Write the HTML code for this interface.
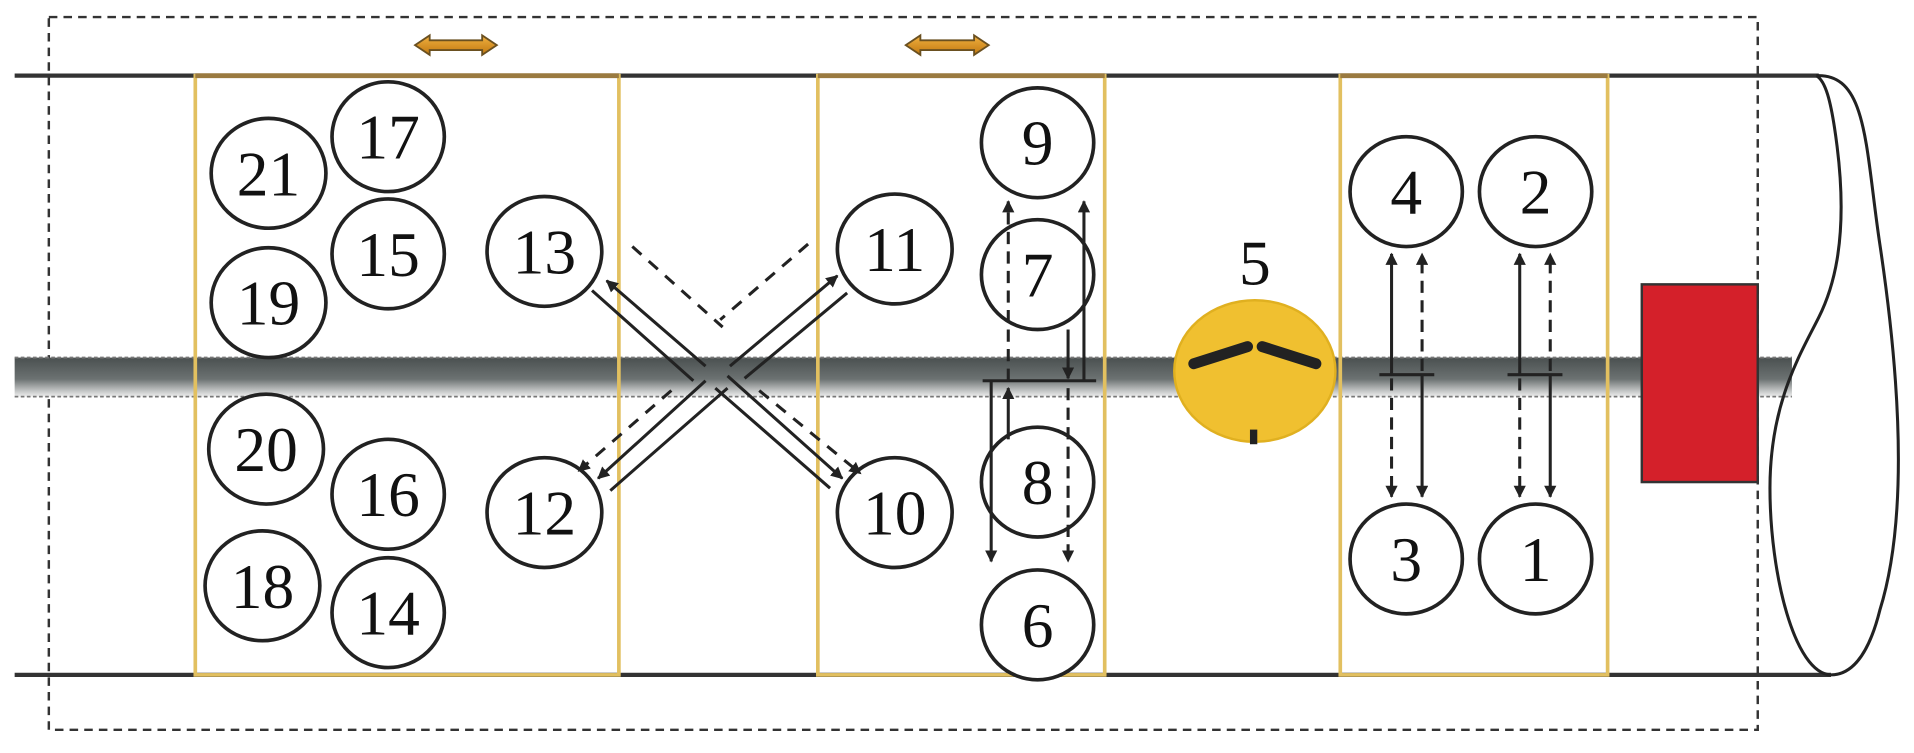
<!DOCTYPE html>
<html><head><meta charset="utf-8"><style>
html,body{margin:0;padding:0;background:#fff;}
svg{display:block;}
text{font-family:"Liberation Serif",serif;font-size:52px;fill:#111;text-anchor:middle;}
</style></head><body>
<svg width="1914" height="753" viewBox="0 0 1568 617" preserveAspectRatio="none" xmlns="http://www.w3.org/2000/svg">
<defs>
<linearGradient id="sh" x1="0" y1="0" x2="0" y2="1">
<stop offset="0" stop-color="#4a5050"/><stop offset="0.55" stop-color="#6c7272"/><stop offset="1" stop-color="#eeeeee"/>
</linearGradient>
<marker id="a" viewBox="0 0 10 10" refX="9" refY="5" markerWidth="4" markerHeight="4" orient="auto-start-reverse"><path d="M0,0L10,5L0,10z" fill="#222"/></marker>
<linearGradient id="ob" x1="0" y1="0" x2="0" y2="1"><stop offset="0" stop-color="#f0b040"/><stop offset="1" stop-color="#c07810"/></linearGradient>
</defs>
<rect x="40" y="14" width="1400" height="584" fill="none" stroke="#333" stroke-width="2" stroke-dasharray="7,5"/>
<rect x="12" y="293" width="1456" height="32" fill="url(#sh)"/>
<line x1="12" y1="293" x2="1468" y2="293" stroke="#777" stroke-width="1.5" stroke-dasharray="3,2"/>
<line x1="12" y1="325" x2="1468" y2="325" stroke="#777" stroke-width="1.5" stroke-dasharray="3,2"/>
<line x1="12" y1="62" x2="1490" y2="62" stroke="#333" stroke-width="3.5"/>
<line x1="12" y1="553" x2="1500" y2="553" stroke="#333" stroke-width="3.5"/>
<path d="M1488,62 C1530,60 1528,120 1540,200 C1555,300 1565,420 1540,500 C1530,540 1515,553 1500,553 C1470,552 1450,470 1450,400 C1450,330 1475,290 1490,260 C1500,240 1515,200 1505,120 C1500,80 1495,66 1488,62" fill="none" stroke="#222" stroke-width="2.5"/>
<g fill="none" stroke="#e2c060" stroke-width="3">
<rect x="160" y="62" width="347" height="491"/>
<rect x="670" y="62" width="235" height="491"/>
<rect x="1098" y="62" width="219" height="491"/>
</g>
<g stroke="#9a7a40" stroke-width="4">
<line x1="160" y1="62" x2="507" y2="62"/><line x1="670" y1="62" x2="905" y2="62"/><line x1="1098" y1="62" x2="1317" y2="62"/>
</g>
<g fill="url(#ob)" stroke="#6a5020" stroke-width="1.5">
<path d="M340,37 L352,29 L352,33 L395,33 L395,29 L407,37 L395,45 L395,41 L352,41 L352,45z"/>
<path d="M742,37 L754,29 L754,33 L798,33 L798,29 L810,37 L798,45 L798,41 L754,41 L754,45z"/>
</g>
<rect x="1345" y="233" width="95" height="162" fill="#d4202a" stroke="#333" stroke-width="2"/>
<ellipse cx="1028" cy="304" rx="66" ry="58" fill="#f0c030" stroke="#e0b020" stroke-width="2"/>
<path d="M978,298 L1022,284 M1034,284 L1078,298" stroke="#222" stroke-width="9" stroke-linecap="round"/>
<rect x="1024" y="352" width="6" height="12" fill="#222"/>
<text x="1028" y="233">5</text>
<g fill="#fff" stroke="#222" stroke-width="3">
<ellipse cx="318" cy="112" rx="46" ry="45"/><ellipse cx="220" cy="142" rx="47" ry="45"/>
<ellipse cx="318" cy="208" rx="46" ry="45"/><ellipse cx="220" cy="248" rx="47" ry="45"/>
<ellipse cx="218" cy="368" rx="47" ry="45"/><ellipse cx="318" cy="405" rx="46" ry="45"/>
<ellipse cx="215" cy="480" rx="47" ry="45"/><ellipse cx="318" cy="502" rx="46" ry="45"/>
<ellipse cx="446" cy="206" rx="47" ry="45"/><ellipse cx="446" cy="420" rx="47" ry="45"/>
<ellipse cx="733" cy="204" rx="47" ry="45"/><ellipse cx="733" cy="420" rx="47" ry="45"/>
<ellipse cx="850" cy="117" rx="46" ry="45"/><ellipse cx="850" cy="225" rx="46" ry="45"/>
<ellipse cx="850" cy="395" rx="46" ry="45"/><ellipse cx="850" cy="512" rx="46" ry="45"/>
<ellipse cx="1152" cy="157" rx="46" ry="45"/><ellipse cx="1258" cy="157" rx="46" ry="45"/>
<ellipse cx="1152" cy="458" rx="46" ry="45"/><ellipse cx="1258" cy="458" rx="46" ry="45"/>
</g>
<g>
<text x="318" y="130">17</text><text x="220" y="160">21</text><text x="318" y="226">15</text><text x="220" y="266">19</text>
<text x="218" y="386">20</text><text x="318" y="423">16</text><text x="215" y="498">18</text><text x="318" y="520">14</text>
<text x="446" y="224">13</text><text x="446" y="438">12</text><text x="733" y="222">11</text><text x="733" y="438">10</text>
<text x="850" y="135">9</text><text x="850" y="243">7</text><text x="850" y="413">8</text><text x="850" y="530">6</text>
<text x="1152" y="175">4</text><text x="1258" y="175">2</text><text x="1152" y="476">3</text><text x="1258" y="476">1</text>
</g>
<g stroke="#222" stroke-width="2.5" fill="none">
<line x1="578" y1="300" x2="497" y2="230" marker-end="url(#a)"/>
<line x1="568" y1="312" x2="485" y2="238"/>
<line x1="598" y1="300" x2="686" y2="226" marker-end="url(#a)"/>
<line x1="610" y1="310" x2="694" y2="240"/>
<line x1="578" y1="312" x2="490" y2="392" marker-end="url(#a)"/>
<line x1="596" y1="318" x2="500" y2="402"/>
<line x1="596" y1="308" x2="690" y2="392" marker-end="url(#a)"/>
<line x1="586" y1="318" x2="680" y2="400"/>
</g>
<g stroke="#222" stroke-width="2.5" fill="none" stroke-dasharray="10,8">
<line x1="518" y1="202" x2="592" y2="268"/>
<line x1="662" y1="200" x2="590" y2="262"/>
<line x1="550" y1="320" x2="474" y2="386" marker-end="url(#a)"/>
<line x1="622" y1="320" x2="705" y2="388" marker-end="url(#a)"/>
</g>
<g stroke="#222" stroke-width="2.5" fill="none">
<line x1="805" y1="312" x2="898" y2="312"/>
<line x1="888" y1="312" x2="888" y2="165" marker-end="url(#a)"/>
<line x1="875" y1="270" x2="875" y2="310" marker-end="url(#a)"/>
<line x1="812" y1="312" x2="812" y2="460" marker-end="url(#a)"/>
<line x1="826" y1="360" x2="826" y2="318" marker-end="url(#a)"/>
<line x1="1130" y1="307" x2="1175" y2="307"/>
<line x1="1235" y1="307" x2="1280" y2="307"/>
<line x1="1140" y1="307" x2="1140" y2="208" marker-end="url(#a)"/>
<line x1="1165" y1="307" x2="1165" y2="407" marker-end="url(#a)"/>
<line x1="1245" y1="307" x2="1245" y2="208" marker-end="url(#a)"/>
<line x1="1270" y1="307" x2="1270" y2="407" marker-end="url(#a)"/>
</g>
<g stroke="#222" stroke-width="2.5" fill="none" stroke-dasharray="10,6">
<line x1="826" y1="312" x2="826" y2="165" marker-end="url(#a)"/>
<line x1="875" y1="318" x2="875" y2="460" marker-end="url(#a)"/>
<line x1="1140" y1="310" x2="1140" y2="407" marker-end="url(#a)"/>
<line x1="1165" y1="304" x2="1165" y2="208" marker-end="url(#a)"/>
<line x1="1245" y1="310" x2="1245" y2="407" marker-end="url(#a)"/>
<line x1="1270" y1="304" x2="1270" y2="208" marker-end="url(#a)"/>
</g>
</svg>
</body></html>
